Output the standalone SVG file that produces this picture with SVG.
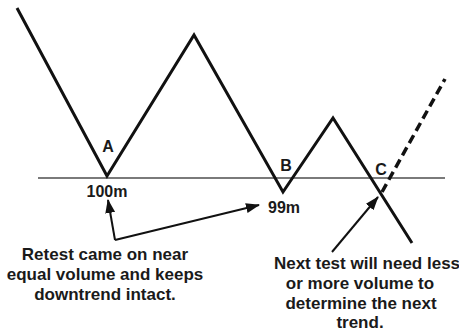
<svg xmlns="http://www.w3.org/2000/svg" width="459" height="332" viewBox="0 0 459 332">
<defs>
<style>
.lbl{font-family:"Liberation Sans",Arial,sans-serif;font-weight:bold;font-size:16px;fill:#1a1a1a;text-anchor:middle}
.note{font-family:"Liberation Sans",Arial,sans-serif;font-weight:bold;font-size:17px;fill:#1a1a1a;text-anchor:middle}
.price{stroke:#111;stroke-width:3;fill:none;stroke-linejoin:miter}
.ptr{stroke:#111;stroke-width:2;fill:none}
</style>
<marker id="ah" viewBox="0 0 14 10" refX="13" refY="5" markerWidth="7" markerHeight="5" markerUnits="strokeWidth" orient="auto">
<path d="M0,0 L14,5 L0,10 z" fill="#111"/>
</marker>
</defs>
<rect width="459" height="332" fill="#fff"/>
<g id="support-line">
<line x1="38" y1="178" x2="445" y2="178" stroke="#7a7a7a" stroke-width="2"/>
</g>
<g id="price-path">
<polyline class="price" points="17,8 107,176 194,35 283,192 333,118 412,243"/>
<line x1="382" y1="192" x2="445" y2="79" stroke="#111" stroke-width="3.5" stroke-dasharray="9,5"/>
</g>
<g id="point-A"><text class="lbl" x="108" y="152">A</text><text class="lbl" x="107" y="197">100m</text></g>
<g id="point-B"><text class="lbl" x="286" y="171">B</text><text class="lbl" x="284" y="213">99m</text></g>
<g id="point-C"><text class="lbl" x="381" y="175">C</text></g>
<g id="connectors">
<line class="ptr" x1="115" y1="240" x2="108" y2="200" marker-end="url(#ah)"/>
<line class="ptr" x1="115" y1="240" x2="259" y2="205" marker-end="url(#ah)"/>
<line class="ptr" x1="332" y1="252" x2="378" y2="197" marker-end="url(#ah)"/>
</g>
<g id="note-left">
<text class="note" x="105" y="260">Retest came on near</text>
<text class="note" x="105" y="280">equal volume and keeps</text>
<text class="note" x="105" y="300">downtrend intact.</text>
</g>
<g id="note-right">
<text class="note" x="367" y="269">Next test will need less</text>
<text class="note" x="360" y="289">or more volume to</text>
<text class="note" x="361" y="309">determine the next</text>
<text class="note" x="360" y="328">trend.</text>
</g>
</svg>
